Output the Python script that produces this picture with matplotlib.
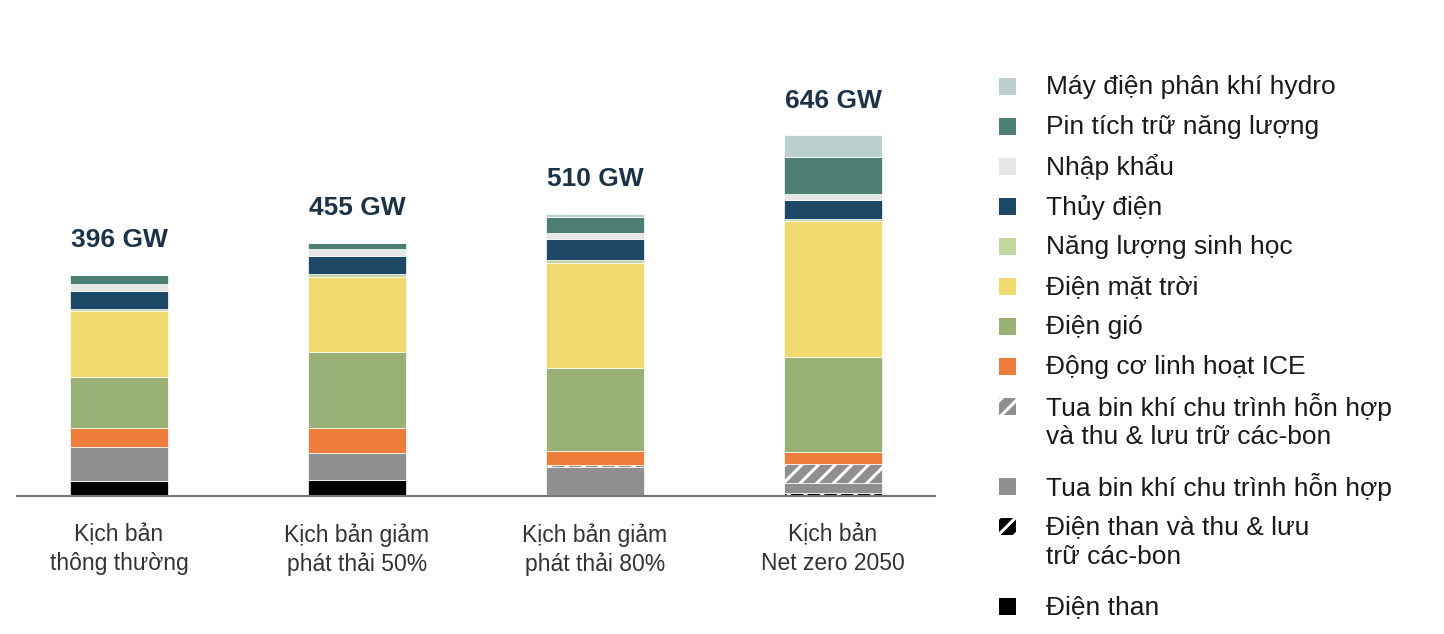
import matplotlib
matplotlib.use("Agg")
import matplotlib.pyplot as plt
from matplotlib.patches import Rectangle
import numpy as np

plt.rcParams['font.family'] = ['Liberation Sans', 'DejaVu Sans']
plt.rcParams['hatch.linewidth'] = 2.2

categories = ["Kịch bản\nthông thường", "Kịch bản giảm\nphát thải 50%",
              "Kịch bản giảm\nphát thải 80%", "Kịch bản\nNet zero 2050"]
totals = ["396 GW", "455 GW", "510 GW", "646 GW"]

# stacked from bottom to top (GW)
coal      = [27, 28, 0, 0]
coal_ccs  = [0, 0, 0, 6]
ccgt      = [61, 49, 52, 17]
ccgt_ccs  = [0, 0, 4, 34]
ice       = [34, 45, 25, 21]
wind      = [92, 136, 148, 171]
solar     = [117, 134, 188, 243]
bio       = [4, 6, 5, 5]
hydro     = [33, 32, 38, 33]
imports   = [11, 12, 11, 11]
battery   = [17, 11, 29, 66]
hydrogen  = [0, 0, 6, 39]

series_names = ["Điện than", "Điện than và thu & lưu\ntrữ các-bon",
                "Tua bin khí chu trình hỗn hợp",
                "Tua bin khí chu trình hỗn hợp\nvà thu & lưu trữ các-bon",
                "Động cơ linh hoạt ICE", "Điện gió", "Điện mặt trời",
                "Năng lượng sinh học", "Thủy điện", "Nhập khẩu",
                "Pin tích trữ năng lượng", "Máy điện phân khí hydro"]
series_vals = [coal, coal_ccs, ccgt, ccgt_ccs, ice, wind, solar, bio,
               hydro, imports, battery, hydrogen]
colors = ["#000000", "#000000", "#8f8f8f", "#8f8f8f", "#ee7d3b", "#99b077",
          "#f0d96e", "#c5d6a0", "#1d4966", "#e6e6e6", "#4e7f75", "#bccfcf"]
hatches = [None, "//", None, "//", None, None, None, None, None, None, None, None]

W, H = 1444, 634
fig = plt.figure(figsize=(W / 100, H / 100), dpi=100)
ax = fig.add_axes([17 / W, (H - 496) / H, 918 / W, 456 / H])

x = np.arange(len(categories))
bottom = np.zeros(len(categories))
for vals, c, h in zip(series_vals, colors, hatches):
    v = np.array(vals, dtype=float)
    ax.bar(x, v, width=0.412, bottom=bottom, color=c, hatch=h,
           edgecolor="white", linewidth=0.5, zorder=2)
    bottom += v

for xi, top, lab in zip(x, bottom, totals):
    ax.annotate(lab, (xi, top), xytext=(0, 25), textcoords="offset points",
                ha="center", va="center", fontsize=19, fontweight="bold",
                color="#1c3347")

ax.set_xlim(-0.4286, 3.4286)
ax.set_ylim(0, 817)
for s in ["top", "right", "left"]:
    ax.spines[s].set_visible(False)
ax.spines["bottom"].set_color("#777777")
ax.spines["bottom"].set_linewidth(1.5)
ax.set_yticks([])
ax.set_xticks(x)
ax.set_xticklabels(categories, fontsize=16.5, color="#333333", linespacing=1.3)
ax.tick_params(axis="x", length=0, pad=20)

# legend (manual, top to bottom)
leg_y = [87, 127, 167, 207, 247, 287, 327, 367, 407, 487, 527, 607]
for i, yy in enumerate(leg_y):
    k = len(series_names) - 1 - i
    fig.patches.append(Rectangle((999 / W, (H - yy - 8) / H), 17 / W, 17 / H,
                                 transform=fig.transFigure, facecolor=colors[k],
                                 hatch=hatches[k], edgecolor="white",
                                 linewidth=0.0))
    lines = series_names[k].split("\n")
    for j, line in enumerate(lines):
        fig.text(1046 / W, (H - yy - 30 * j) / H, line, fontsize=19,
                 color="#1a1a1a", va="center", ha="left")

fig.savefig("out.png", dpi=100)
